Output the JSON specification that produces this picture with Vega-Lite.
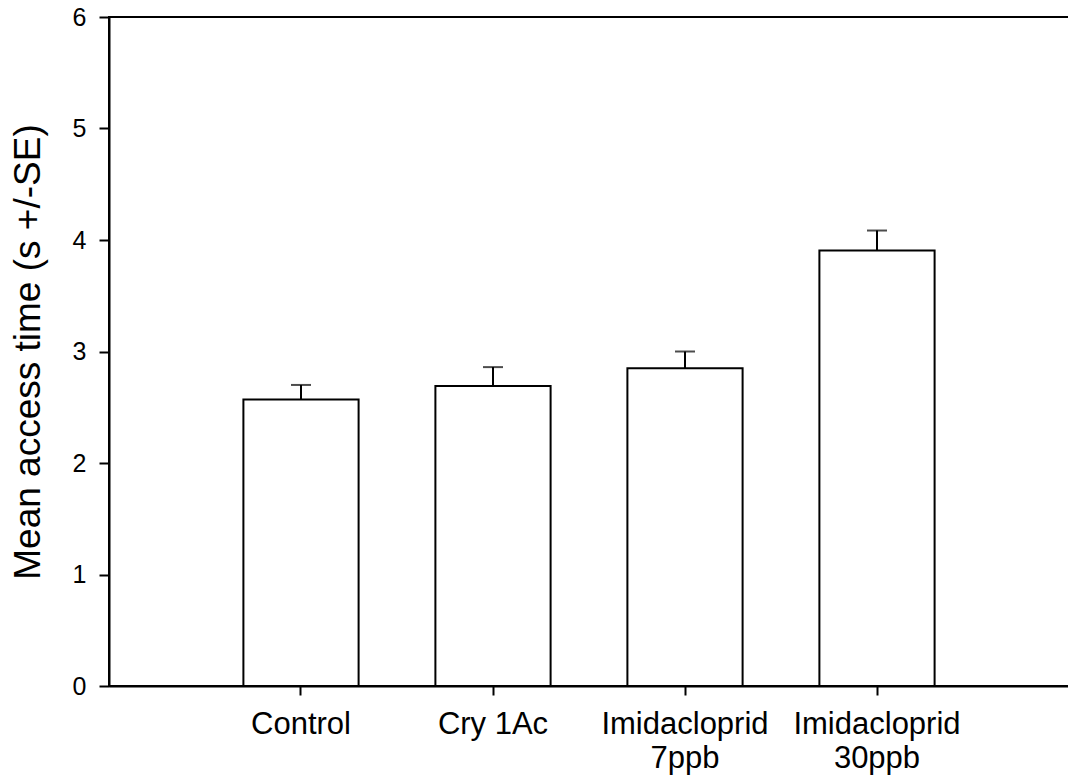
{
  "$schema": "https://vega.github.io/schema/vega-lite/v6.json",
  "width": 960,
  "height": 669,
  "autosize": "none",
  "padding": {"left": 109, "top": 17, "right": 0, "bottom": 95},
  "background": "white",
  "config": {
    "font": "Liberation Sans",
    "view": {"stroke": "black", "strokeWidth": 2},
    "axis": {"domainColor": "black", "tickColor": "black", "labelColor": "black", "titleColor": "black", "grid": false, "domainWidth": 2, "tickWidth": 2}
  },
  "data": {
    "values": [
      {"treatment": "Control", "mean": 2.57, "upper": 2.70},
      {"treatment": "Cry 1Ac", "mean": 2.69, "upper": 2.86},
      {"treatment": "Imidacloprid 7ppb", "mean": 2.85, "upper": 3.00},
      {"treatment": "Imidacloprid 30ppb", "mean": 3.905, "upper": 4.085}
    ]
  },
  "encoding": {
    "x": {
      "field": "treatment", "type": "nominal", "sort": null,
      "scale": {"paddingInner": 0.4, "paddingOuter": 0.7},
      "axis": {"title": null, "labelAngle": 0, "tickSize": 9, "labelPadding": 14, "labelFontSize": 31, "labelLineHeight": 34,
        "labelExpr": "indexof(datum.label, 'Imidacloprid') == 0 ? split(datum.label, ' ') : datum.label"}
    }
  },
  "layer": [
    {
      "mark": {"type": "bar", "fill": "white", "stroke": "black", "strokeWidth": 2},
      "encoding": {
        "y": {"field": "mean", "type": "quantitative", "scale": {"domain": [0, 6]},
          "axis": {"title": "Mean access time (s +/-SE)", "values": [0, 1, 2, 3, 4, 5, 6], "format": "d", "tickSize": 10, "labelPadding": 13, "labelFontSize": 25, "titleFontSize": 37, "titleFontWeight": "normal", "titlePadding": 25}}
      }
    },
    {
      "mark": {"type": "rule", "color": "black", "strokeWidth": 2},
      "encoding": {
        "y": {"field": "mean", "type": "quantitative"},
        "y2": {"field": "upper"}
      }
    },
    {
      "mark": {"type": "tick", "orient": "horizontal", "color": "black", "size": 20, "thickness": 2},
      "encoding": {
        "y": {"field": "upper", "type": "quantitative"}
      }
    }
  ]
}
